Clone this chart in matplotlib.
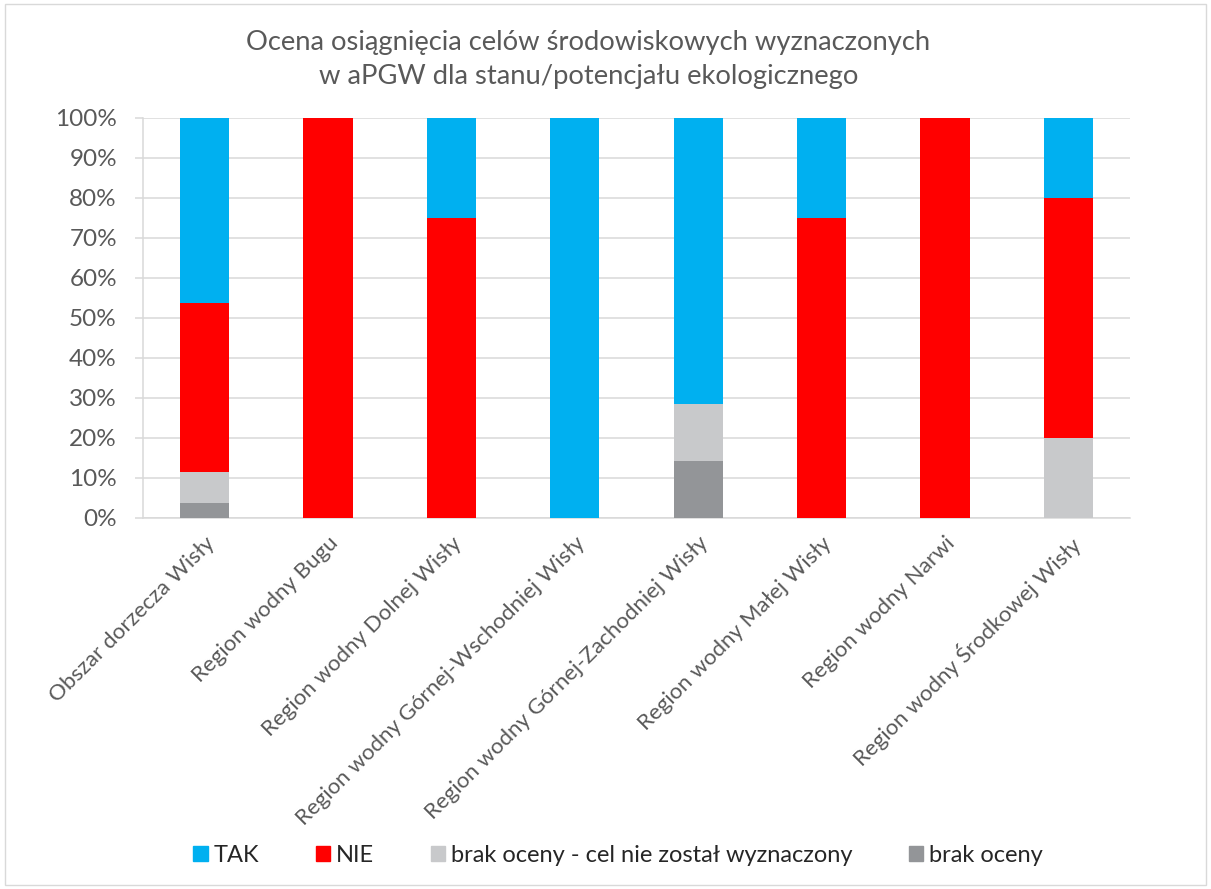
"""Stacked percentage bars: environmental objectives assessment (aPGW)."""

import matplotlib as mpl
import matplotlib.pyplot as plt
from matplotlib.patches import Rectangle
from matplotlib.ticker import PercentFormatter
from matplotlib.transforms import ScaledTranslation
import numpy as np

CATEGORIES = [
    "Obszar dorzecza Wisły",
    "Region wodny Bugu",
    "Region wodny Dolnej Wisły",
    "Region wodny Górnej-Wschodniej Wisły",
    "Region wodny Górnej-Zachodniej Wisły",
    "Region wodny Małej Wisły",
    "Region wodny Narwi",
    "Region wodny Środkowej Wisły",
]

# shares in percent, stacked bottom-up: brak oceny, brak oceny - cel..., NIE, TAK
BRAK_OCENY = [3.85, 0, 0, 0, 14.29, 0, 0, 0]
BRAK_CELU = [7.69, 0, 0, 0, 14.29, 0, 0, 20]
NIE = [42.31, 100, 75, 0, 0, 75, 100, 60]
TAK = [46.15, 0, 25, 100, 71.42, 25, 0, 20]

SERIES_LABELS = ["TAK", "NIE", "brak oceny - cel nie został wyznaczony", "brak oceny"]
COLORS = ["#00B0F0", "#FF0000", "#C8C9CB", "#939598"]

TITLE = "Ocena osiągnięcia celów środowiskowych wyznaczonych\nw aPGW dla stanu/potencjału ekologicznego"

mpl.rcParams.update(
    {
        "font.family": ["Lato", "DejaVu Sans"],
        "font.size": 14,
    }
)

W, H = 1211, 889
fig = plt.figure(figsize=(W / 100, H / 100), dpi=100)
fig.patch.set_facecolor("white")
ax = fig.add_axes([143 / W, 1 - 518 / H, (1130 - 143) / W, 400 / H])

x = np.arange(len(CATEGORIES))
width = 0.40
stack = [
    (BRAK_OCENY, COLORS[3]),
    (BRAK_CELU, COLORS[2]),
    (NIE, COLORS[1]),
    (TAK, COLORS[0]),
]
bottom = np.zeros(len(CATEGORIES))
for values, color in stack:
    vals = np.array(values, dtype=float)
    ax.bar(x, vals, width, bottom=bottom, color=color, zorder=3, linewidth=0)
    bottom += vals

ax.set_xlim(-0.5, len(CATEGORIES) - 0.5)
ax.set_ylim(0, 100)
ax.set_yticks(np.arange(0, 101, 10))
ax.yaxis.set_major_formatter(PercentFormatter(decimals=0))
ax.grid(axis="y", color="#D9D9D9", linewidth=1.1, zorder=0)
for side in ("top", "right"):
    ax.spines[side].set_visible(False)
for side in ("bottom", "left"):
    ax.spines[side].set_color("#D9D9D9")
    ax.spines[side].set_linewidth(1.1)
ax.tick_params(axis="y", length=5.8, width=1.1, direction="out", color="#D9D9D9",
               labelsize=17.5, labelcolor="#595959", pad=13)
ax.set_xticks(x)
ax.set_xticklabels(CATEGORIES, rotation=45, ha="right", va="top",
                   rotation_mode="anchor")
ax.tick_params(axis="x", length=0, labelsize=16, labelcolor="#595959", pad=0)
shift = ScaledTranslation(0.0, -10.8 / 72, fig.dpi_scale_trans)
for lbl in ax.get_xticklabels():
    lbl.set_transform(lbl.get_transform() + shift)

fig.text(0.486, 1 - 30 / H, TITLE, ha="center", va="top", fontsize=19.7,
         color="#595959", linespacing=1.45)

handles = [Rectangle((0, 0), 1, 1, color=c) for c in COLORS]
fig.legend(
    handles,
    SERIES_LABELS,
    loc="center",
    bbox_to_anchor=(618 / W, 1 - 855 / H),
    ncol=4,
    frameon=False,
    fontsize=17,
    handlelength=0.6,
    handleheight=0.6,
    handletextpad=0.25,
    columnspacing=2.4,
    labelcolor="#262626",
)

border = Rectangle((0.004, 0.004), 0.992, 0.992, transform=fig.transFigure,
                   fill=False, edgecolor="#D9D9D9", linewidth=1)
fig.patches.append(border)

fig.savefig("out.png", dpi=100)
